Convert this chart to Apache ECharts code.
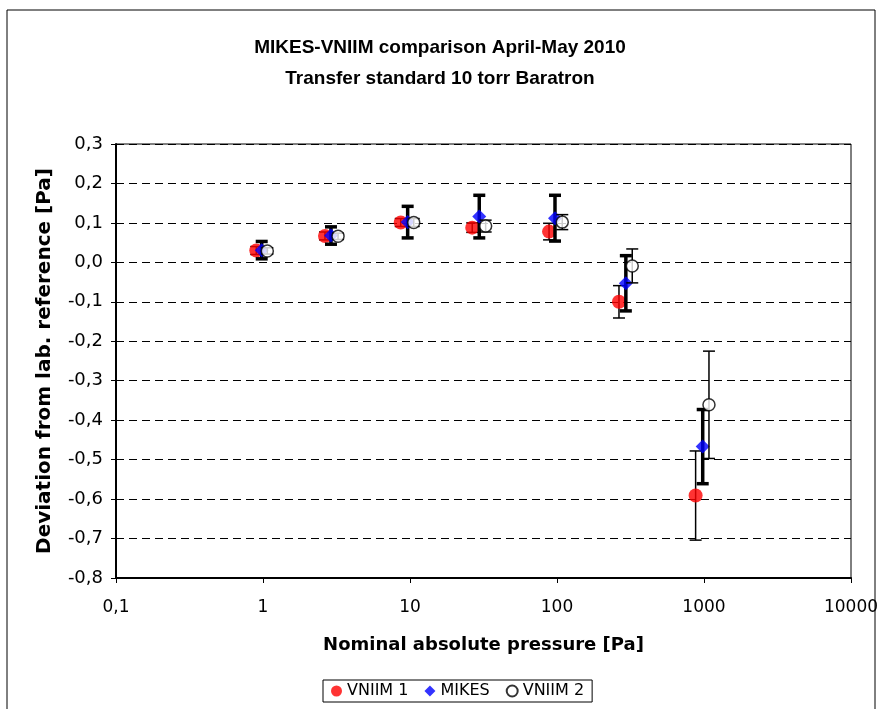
<!DOCTYPE html>
<html lang="en">
<head>
    <meta charset="UTF-8">
    <title>MIKES-VNIIM comparison</title>
    <script src="https://cdn.jsdelivr.net/npm/echarts@6/dist/echarts.min.js"></script>
    <style>
        html, body {
            margin: 0;
            padding: 0;
            background: #fff;
        }

        #chart {
            width: 880px;
            height: 709px;
        }
    </style>
</head>
<body>
<div id="chart"></div>

<script type="text/javascript">
    // nominal pressure [Pa], deviation [Pa], uncertainty [Pa] per lab
    var pressVniim1 = [0.90, 2.64, 8.65, 26.5, 88.3, 264, 877];
    var devVniim1 = [0.030, 0.067, 0.101, 0.088, 0.078, -0.100, -0.591];
    var uncVniim1 = [0.010, 0.010, 0.010, 0.012, 0.021, 0.041, 0.113];

    var pressMikes = [0.98, 2.90, 9.64, 29.6, 96.9, 294, 980];
    var devMikes = [0.031, 0.068, 0.102, 0.116, 0.112, -0.053, -0.467];
    var uncMikes = [0.022, 0.022, 0.040, 0.054, 0.058, 0.070, 0.094];

    var pressVniim2 = [1.07, 3.24, 10.6, 32.7, 108.6, 325, 1081];
    var devVniim2 = [0.029, 0.066, 0.101, 0.092, 0.102, -0.009, -0.361];
    var uncVniim2 = [0.008, 0.008, 0.010, 0.015, 0.019, 0.043, 0.136];

    var titleFont = "'Liberation Sans', Arial, sans-serif";
    var labelFont = "'DejaVu Sans', sans-serif";

    function points(px, dev) {
        var out = [];
        for (var i = 0; i < px.length; i++) {
            out.push([px[i], dev[i]]);
        }
        return out;
    }

    function bars(px, dev, unc) {
        var out = [];
        for (var i = 0; i < px.length; i++) {
            out.push([px[i], dev[i] - unc[i], dev[i] + unc[i]]);
        }
        return out;
    }

    // error bar drawn with the axis scales
    function errorBar(lineW, capW) {
        return function (params, api) {
            var x = api.value(0);
            var top = api.coord([x, api.value(2)]);
            var bot = api.coord([x, api.value(1)]);
            var st = {stroke: '#000', lineWidth: lineW};
            return {
                type: 'group',
                children: [
                    {type: 'line', shape: {x1: top[0], y1: top[1], x2: bot[0], y2: bot[1]}, style: st},
                    {type: 'line', shape: {x1: top[0] - capW, y1: top[1], x2: top[0] + capW, y2: top[1]}, style: st},
                    {type: 'line', shape: {x1: bot[0] - capW, y1: bot[1], x2: bot[0] + capW, y2: bot[1]}, style: st}
                ]
            };
        };
    }

    var chart = echarts.init(document.getElementById('chart'));

    var option = {
        backgroundColor: '#fff',
        animation: false,
        textStyle: {fontFamily: labelFont},
        graphic: [
            {
                type: 'rect',
                shape: {x: 7, y: 10, width: 868, height: 720},
                style: {fill: 'none', stroke: '#000', lineWidth: 1},
                silent: true
            }
        ],
        title: {
            text: 'MIKES-VNIIM comparison April-May 2010\nTransfer standard 10 torr Baratron',
            left: 'center',
            top: 27,
            textStyle: {
                fontFamily: titleFont,
                fontSize: 19,
                fontWeight: 'bold',
                color: '#000',
                lineHeight: 31
            }
        },
        legend: {
            left: 323,
            top: 680,
            padding: [3, 8],
            itemGap: 16,
            itemWidth: 11,
            itemHeight: 11,
            borderColor: '#000',
            borderWidth: 1,
            textStyle: {fontFamily: labelFont, fontSize: 16, color: '#000'},
            data: [
                {name: 'VNIIM 1', icon: 'circle'},
                {name: 'MIKES', icon: 'diamond'},
                {name: 'VNIIM 2', icon: 'circle'}
            ]
        },
        grid: {
            left: 116,
            top: 144,
            right: 29,
            bottom: 131,
            outerBoundsMode: 'none',
            containLabel: false,
            show: true,
            borderColor: '#000',
            borderWidth: 1
        },
        xAxis: {
            type: 'log',
            logBase: 10,
            min: 0.1,
            max: 10000,
            name: 'Nominal absolute pressure [Pa]',
            nameLocation: 'middle',
            nameGap: 58,
            nameTextStyle: {fontFamily: labelFont, fontSize: 18, fontWeight: 'bold', color: '#000'},
            axisLine: {onZero: false, lineStyle: {color: '#000', width: 2}},
            axisTick: {show: true, inside: false, length: 5, lineStyle: {color: '#000'}},
            axisLabel: {
                fontFamily: labelFont,
                fontSize: 17,
                color: '#000',
                margin: 21,
                formatter: function (v) {
                    return String(+v.toPrecision(3)).replace('.', ',');
                }
            },
            splitLine: {show: false},
            minorTick: {show: false}
        },
        yAxis: {
            type: 'value',
            min: -0.8,
            max: 0.3,
            interval: 0.1,
            name: 'Deviation from lab. reference [Pa]',
            nameLocation: 'middle',
            nameGap: 61,
            nameRotate: 90,
            nameTextStyle: {fontFamily: labelFont, fontSize: 20, fontWeight: 'bold', color: '#000'},
            axisLine: {show: true, lineStyle: {color: '#000', width: 2}},
            axisTick: {show: true, inside: false, length: 5, lineStyle: {color: '#000'}},
            axisLabel: {
                fontFamily: labelFont,
                fontSize: 18,
                color: '#000',
                margin: 13,
                formatter: function (v) {
                    return v.toFixed(1).replace('.', ',');
                }
            },
            splitLine: {show: true, lineStyle: {color: '#000', width: 1, type: [8, 5]}}
        },
        series: [
            {
                name: 'err1',
                type: 'custom',
                renderItem: errorBar(1.5, 6),
                encode: {x: 0, y: [1, 2]},
                data: bars(pressVniim1, devVniim1, uncVniim1),
                z: 2
            },
            {
                name: 'VNIIM 1',
                type: 'scatter',
                symbol: 'circle',
                symbolSize: 14,
                itemStyle: {color: '#ff0000'},
                data: points(pressVniim1, devVniim1),
                z: 3
            },
            {
                name: 'err2',
                type: 'custom',
                renderItem: errorBar(3.5, 6),
                encode: {x: 0, y: [1, 2]},
                data: bars(pressMikes, devMikes, uncMikes),
                z: 4
            },
            {
                name: 'MIKES',
                type: 'scatter',
                symbol: 'diamond',
                symbolSize: 14,
                itemStyle: {color: '#0000ff'},
                data: points(pressMikes, devMikes),
                z: 5
            },
            {
                name: 'err3',
                type: 'custom',
                renderItem: errorBar(1.5, 6),
                encode: {x: 0, y: [1, 2]},
                data: bars(pressVniim2, devVniim2, uncVniim2),
                z: 6
            },
            {
                name: 'VNIIM 2',
                type: 'scatter',
                symbol: 'circle',
                symbolSize: 12,
                itemStyle: {color: '#fff', borderColor: '#000', borderWidth: 1.5},
                data: points(pressVniim2, devVniim2),
                z: 7
            }
        ]
    };

    chart.setOption(option);
</script>
</body>
</html>
